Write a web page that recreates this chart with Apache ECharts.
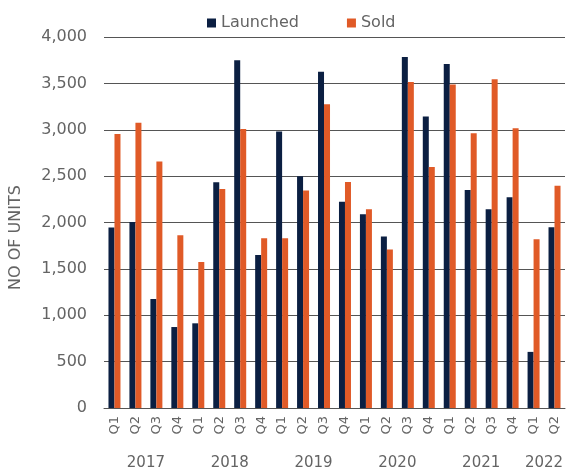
<!DOCTYPE html>
<html>
<head>
<meta charset="utf-8">
<script src="https://cdn.jsdelivr.net/npm/echarts@6/dist/echarts.min.js"></script>
<style>
  html, body { margin: 0; padding: 0; background: #fff; }
  #main { width: 568px; height: 474px; }
</style>
</head>
<body>
<div id="main"></div>
<script>
// quarters 2017 Q1 .. 2022 Q2
const quarters = ['Q1', 'Q2', 'Q3', 'Q4', 'Q1', 'Q2', 'Q3', 'Q4', 'Q1', 'Q2', 'Q3', 'Q4',
    'Q1', 'Q2', 'Q3', 'Q4', 'Q1', 'Q2', 'Q3', 'Q4', 'Q1', 'Q2'];
const years = ['2017', '2018', '2019', '2020', '2021', '2022'];
// where each year label sits (category boundary index)
const yearPos = [2, 6, 10, 14, 18, 21];
const launched = [1945, 2005, 1175, 873, 913, 2435, 3748, 1650, 2980, 2500, 3625, 2225,
    2090, 1848, 3785, 3143, 3710, 2350, 2143, 2273, 605, 1950];
const sold = [2955, 3075, 2657, 1862, 1575, 2360, 3008, 1830, 1830, 2345, 3275, 2437,
    2143, 1708, 3515, 2598, 3487, 2963, 3545, 3015, 1820, 2395];
const yTicks = [0, 500, 1000, 1500, 2000, 2500, 3000, 3500, 4000];

const grey = '#646464';
const font = 'DejaVu Sans';

let chart = echarts.init(document.getElementById('main'));
let option = {
    animation: false,
    textStyle: { fontFamily: font },
    legend: {
        top: 10,
        left: 202,
        itemWidth: 9,
        itemHeight: 9,
        itemGap: 48,
        icon: 'rect',
        textStyle: { color: grey, fontSize: 16, fontFamily: font },
        data: ['Launched', 'Sold']
    },
    grid: { left: 100, right: 2, top: 37, bottom: 66 },
    xAxis: [{
        type: 'category',
        data: quarters,
        axisTick: { show: false },
        axisLine: { lineStyle: { color: '#555', width: 1 } },
        axisLabel: {
            rotate: 90,
            margin: 8,
            color: grey,
            fontSize: 13,
            interval: 0
        }
    }, {
        // year labels below the quarters
        type: 'value',
        min: 0,
        max: quarters.length,
        interval: 1,
        position: 'bottom',
        offset: 48,
        axisLine: { show: false },
        axisTick: { show: false },
        splitLine: { show: false },
        axisLabel: {
            margin: 0,
            color: grey,
            fontSize: 15,
            showMinLabel: true,
            showMaxLabel: true,
            formatter: function (v) {
                let i = yearPos.indexOf(v);
                return i >= 0 ? years[i] : '';
            }
        }
    }],
    yAxis: {
        type: 'value',
        min: 0,
        max: yTicks[yTicks.length - 1],
        interval: 500,
        name: 'NO OF UNITS',
        nameLocation: 'middle',
        nameGap: 80,
        nameTextStyle: { color: grey, fontSize: 16, padding: [0, 30, 0, 0] },
        axisLine: { show: false },
        axisTick: { show: false },
        axisLabel: {
            margin: 17,
            color: grey,
            fontSize: 16,
            formatter: function (v) { return v.toLocaleString('en-US'); }
        },
        splitLine: { lineStyle: { color: '#555', width: 1 } }
    },
    series: [{
        name: 'Launched',
        type: 'bar',
        barWidth: 6,
        barGap: '0%',
        itemStyle: { color: '#0b1f42' },
        data: launched
    }, {
        name: 'Sold',
        type: 'bar',
        barWidth: 6,
        itemStyle: { color: '#e05a27' },
        data: sold
    }]
};
chart.setOption(option);
</script>
</body>
</html>
